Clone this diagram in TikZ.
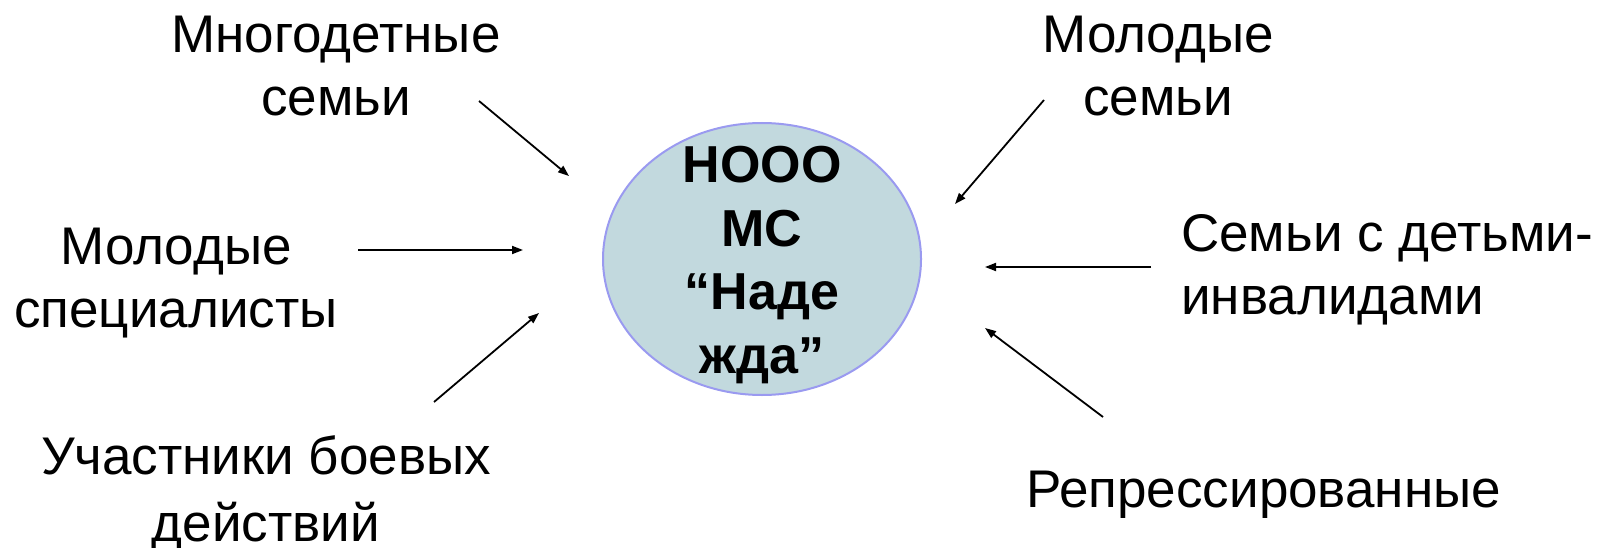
\documentclass[tikz,border=0pt]{standalone}
\usepackage{fontspec}
\setmainfont{Liberation Sans}
\usepackage{xcolor}
\usepackage{tikz}
\usetikzlibrary{arrows.meta,positioning,shapes.geometric}
\definecolor{orgfill}{HTML}{C2D9DE}
\definecolor{orgline}{HTML}{9A9AF0}
\tikzset{
  org/.style={draw=orgline, fill=orgfill, line width=2pt, ellipse, minimum width=318pt, minimum height=272pt, inner sep=0pt},
  orgtext/.style={align=center, inner sep=0pt, font=\fontsize{52}{63.5}\selectfont\bfseries},
  group/.style={align=center, inner sep=0pt, font=\fontsize{53}{63}\selectfont},
  groupl/.style={group, align=left},
  arrow/.style={-{Triangle[length=11pt,width=8pt]}, line width=1.8pt},
}
\begin{document}
\begin{tikzpicture}[x=1pt, y=-1pt]
\useasboundingbox (0,0) rectangle (1602,548);
\node[org] (hope) at (762,259) {};
% base = baseline of the last line
\node[orgtext, anchor=base] (hopetxt) at (762,373) {НООО\\МС\\“Наде\\жда”};
\node[group, anchor=base] (big) at (336,116) {Многодетные\\семьи};
\node[group, anchor=base] (young) at (1158,116) {Молодые\\семьи};
\node[group, anchor=base] (spec) at (176,327) {Молодые\\специалисты};
\node[groupl, anchor=base west] (disab) at (1181,314) {Семьи с детьми-\\инвалидами};
\node[group, anchor=base, font=\fontsize{53}{67}\selectfont] (veter) at (266,541) {Участники боевых\\действий};
\node[group, anchor=base west] (repr) at (1026,507) {Репрессированные};
% arrow ends
\coordinate (big-a) at (479,101);   \coordinate (big-b) at (569,176);
\coordinate (young-a) at (1044,100); \coordinate (young-b) at (955,204);
\coordinate (spec-a) at (358,250);  \coordinate (spec-b) at (523,250);
\coordinate (veter-a) at (434,402); \coordinate (veter-b) at (539,313);
\coordinate (disab-a) at (1151,267); \coordinate (disab-b) at (985,267);
\coordinate (repr-a) at (1103,417); \coordinate (repr-b) at (985,328);
\foreach \g in {big,young,spec,veter,disab,repr}
  \draw[arrow] (\g-a) -- (\g-b);
\end{tikzpicture}
\end{document}
